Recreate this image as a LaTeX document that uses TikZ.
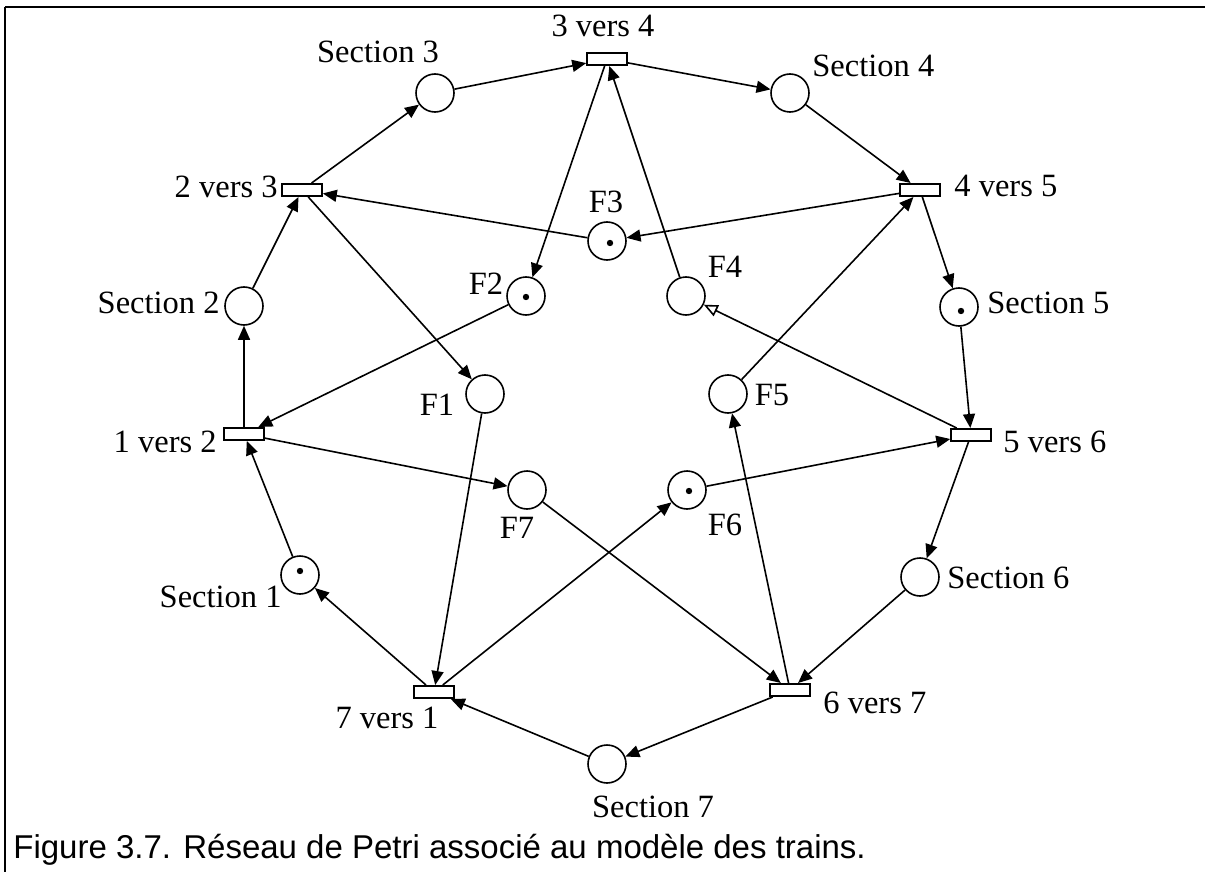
\documentclass[tikz,border=0pt]{standalone}
\usepackage{fontspec}
\setmainfont{Liberation Serif}
\newfontfamily\capfont{Liberation Sans}
\usetikzlibrary{arrows.meta}
\begin{document}
\begin{tikzpicture}[x=0.5pt,y=-0.5pt,
  place/.style={circle, draw, line width=0.8pt, minimum size=19pt, inner sep=0pt},
  trans/.style={rectangle, draw, line width=0.8pt, minimum width=20pt, minimum height=6.2pt, inner sep=0pt},
  lab/.style={inner sep=0pt, font=\fontsize{16.25}{19}\selectfont},
  arc/.style={line width=0.8pt, -{Triangle[length=7pt,width=6pt]}},
  openarc/.style={line width=0.8pt, -{Triangle[open,length=7pt,width=6pt]}},
  frame/.style={line width=1.2pt}]
\useasboundingbox (0,0) rectangle (1205,872);

% frame (top and left rules)
\draw[frame] (5,7) -- (1205,7);
\draw[frame] (5,7) -- (5,872);

% places of the sections
\node[place] (s1) at (300,575) {};
\node[place] (s2) at (244,306) {};
\node[place] (s3) at (435,93) {};
\node[place] (s4) at (790,93) {};
\node[place] (s5) at (959,307) {};
\node[place] (s6) at (920,577) {};
\node[place] (s7) at (607,764) {};

% free-section places
\node[place] (f1) at (485,394) {};
\node[place] (f2) at (526,296) {};
\node[place] (f3) at (607,241) {};
\node[place] (f4) at (686,296) {};
\node[place] (f5) at (728,394) {};
\node[place] (f6) at (687,490) {};
\node[place] (f7) at (527,490) {};

% tokens
\foreach \p/\dx/\dy in {s1/0/-4, s5/2/4, f2/0/1, f3/3/2, f6/2/1}
  \fill ([shift={(\dx,\dy)}]\p.center) circle (1.6pt);

% transitions
\node[trans] (t12) at (244,434) {};
\node[trans] (t23) at (302,190) {};
\node[trans] (t34) at (607,59) {};
\node[trans] (t45) at (920,190) {};
\node[trans] (t56) at (971,435) {};
\node[trans] (t67) at (790,690) {};
\node[trans] (t71) at (434,692) {};

% labels
\node[lab, anchor=base] (l34) at (603,37) {3 vers 4};
\node[lab, anchor=base] (ls3) at (378,63) {Section 3};
\node[lab, anchor=base west] (ls4) at (812,77) {Section 4};
\node[lab, anchor=base east] (l23) at (278,198) {2 vers 3};
\node[lab, anchor=base west] (l45) at (954,197) {4 vers 5};
\node[lab, anchor=base] (lf3) at (606,213) {F3};
\node[lab, anchor=base] (lf2) at (486,294) {F2};
\node[lab, anchor=base] (lf4) at (725,277) {F4};
\node[lab, anchor=base east] (ls2) at (220,313) {Section 2};
\node[lab, anchor=base west] (ls5) at (987,313) {Section 5};
\node[lab, anchor=base] (lf1) at (437,415) {F1};
\node[lab, anchor=base] (lf5) at (772,405) {F5};
\node[lab, anchor=base east] (l12) at (217,452) {1 vers 2};
\node[lab, anchor=base west] (l56) at (1003,452) {5 vers 6};
\node[lab, anchor=base] (lf7) at (517,538) {F7};
\node[lab, anchor=base] (lf6) at (725,535) {F6};
\node[lab, anchor=base east] (ls1) at (282,607) {Section 1};
\node[lab, anchor=base west] (ls6) at (947,588) {Section 6};
\node[lab, anchor=base west] (l67) at (823,713) {6 vers 7};
\node[lab, anchor=base] (l71) at (387,728) {7 vers 1};
\node[lab, anchor=base] (ls7) at (653,817) {Section 7};

% caption
\node[inner sep=0pt, anchor=base west, font=\capfont\fontsize{16.5}{19}\selectfont] (cap) at (13,858)
  {Figure 3.7. Réseau de Petri associé au modèle des trains.};

% outer ring: sections and transitions
\draw[arc] (t12) -- (s2);
\draw[arc] (s2) -- (t23);
\draw[arc] (t23) -- (s3);
\draw[arc] (s3) -- (t34);
\draw[arc] (t34) -- (s4);
\draw[arc] (s4) -- (t45);
\draw[arc] (t45) -- (s5);
\draw[arc] (s5) -- (t56);
\draw[arc] (t56) -- (s6);
\draw[arc] (s6) -- (t67);
\draw[arc] (t67) -- (s7);
\draw[arc] (s7) -- (t71);
\draw[arc] (t71) -- (s1);
\draw[arc] (s1) -- (t12);

% inner star: free-section places
\draw[arc] (t34) -- (f2);
\draw[arc] (f3) -- (t23);
\draw[arc] (t45) -- (f3);
\draw[arc] (f4) -- (t34);
\draw[openarc] (t56) -- (f4);
\draw[arc] (f5) -- (t45);
\draw[arc] (t67) -- (f5);
\draw[arc] (f6) -- (t56);
\draw[arc] (t71) -- (f6);
\draw[arc] (f7) -- (t67);
\draw[arc] (t12) -- (f7);
\draw[arc] (f1) -- (t71);
\draw[arc] (t23) -- (f1);
\draw[arc] (f2) -- (t12);
\end{tikzpicture}
\end{document}
